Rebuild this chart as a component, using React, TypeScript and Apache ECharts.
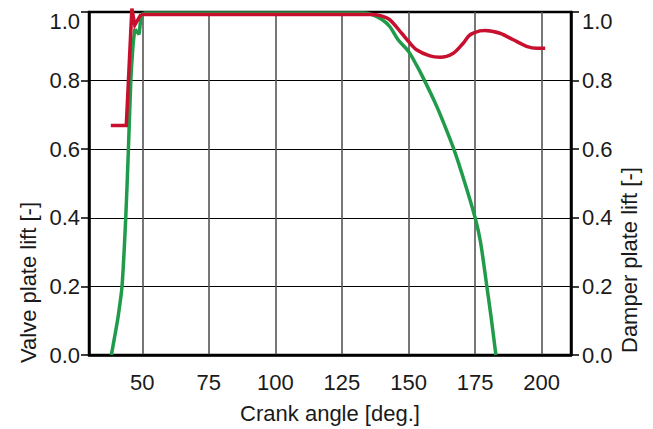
import React, { useEffect, useRef } from "react";
import * as echarts from "echarts";

const crankTicks = [50, 75, 100, 125, 150, 175, 200];

// Valve plate lift (left axis): rise (smooth), notch at full lift (sharp), hold + closing (smooth)
const valveRise: [number, number][] = [
  [38.4, 0], [39.7, 0.056], [40.9, 0.11], [42.4, 0.2], [43.8, 0.4], [44.8, 0.6],
  [45.7, 0.8], [46.5, 0.9], [47.2, 0.95],
];
const valveNotch: [number, number][] = [
  [47.2, 0.95], [48.8, 0.935], [49.6, 0.99], [50.5, 0.997],
];
const valveClosing: [number, number][] = [
  [50.5, 0.997], [90, 0.997], [133, 0.997], [136, 0.993], [140, 0.978], [143, 0.957],
  [146, 0.92], [150, 0.885], [153, 0.845], [156, 0.8], [160, 0.735], [163, 0.68],
  [167, 0.6], [171, 0.505], [175, 0.4], [177, 0.33], [179.4, 0.2], [181, 0.11], [182.8, 0],
];

// Damper plate lift (right axis)
const damperOpening: [number, number][] = [
  [38.2, 0.669], [44.0, 0.669], [46.1, 1.01], [47.2, 0.962], [49.5, 0.993],
];
const damperClosing: [number, number][] = [
  [49.5, 0.993], [100, 0.993], [137, 0.993], [140, 0.988], [143, 0.977], [147.4, 0.938],
  [150, 0.914], [153, 0.89], [158, 0.872], [161.8, 0.868], [166.8, 0.88], [170.5, 0.909],
  [173, 0.933], [176.8, 0.945], [178.7, 0.946], [184.3, 0.938], [189.3, 0.919],
  [194.3, 0.9], [198.1, 0.894], [201.3, 0.894],
];

const FONT = "'Liberation Sans', Arial, sans-serif";
const FS = 22;
const TXT = "#1a1a1a";
const GREEN = "#1f9b4a";
const RED = "#c8102e";

const liftFormatter = (v: number) => (Math.abs(v - 1) < 1e-9 ? "{t|1.0}" : v.toFixed(1));

export default function App() {
  const ref = useRef<HTMLDivElement>(null);
  useEffect(() => {
    if (!ref.current) return;
    const chart = echarts.init(ref.current, null, { renderer: "svg" });
    const labelStyle = {
      fontFamily: FONT,
      fontSize: FS,
      color: TXT,
      rich: { t: { fontFamily: FONT, fontSize: FS, color: TXT, padding: [18, 0, 0, 0] } },
    };
    const greenLine = { color: GREEN, width: 3.5 };
    const redLine = { color: RED, width: 3.5 };
    chart.setOption({
      animation: false,
      backgroundColor: "#fff",
      grid: {
        left: 89, right: 82, top: 12, bottom: 73,
        show: true, borderColor: "#000", borderWidth: 2.5, backgroundColor: "transparent",
      },
      xAxis: {
        type: "value",
        min: 30,
        max: 211,
        name: "Crank angle [deg.]",
        nameLocation: "middle",
        nameGap: 47,
        nameTextStyle: { fontFamily: FONT, fontSize: FS, color: TXT },
        axisLine: { show: true, lineStyle: { color: "#000", width: 2.5 } },
        axisTick: { show: false, customValues: crankTicks },
        axisLabel: { customValues: crankTicks, margin: 16, fontFamily: FONT, fontSize: FS, color: TXT },
        splitLine: { show: true, lineStyle: { color: "#555", width: 1.6 } },
      },
      yAxis: [
        {
          type: "value", position: "left", min: 0, max: 1, interval: 0.2,
          axisLine: { show: true, lineStyle: { color: "#000", width: 2.5 } },
          axisTick: { show: true, inside: false, length: 8, lineStyle: { color: "#000", width: 1.5 } },
          axisLabel: { ...labelStyle, margin: 9, formatter: liftFormatter },
          splitLine: { show: true, lineStyle: { color: "#000", width: 1.2 } },
        },
        {
          type: "value", position: "right", min: 0, max: 1, interval: 0.2,
          axisLine: { show: true, lineStyle: { color: "#000", width: 2.5 } },
          axisTick: { show: true, inside: false, length: 8, lineStyle: { color: "#000", width: 1.5 } },
          axisLabel: { ...labelStyle, margin: 11, formatter: liftFormatter },
          splitLine: { show: false },
        },
      ],
      graphic: [
        {
          type: "text", x: 28, y: 363, rotation: Math.PI / 2,
          style: { text: "Valve plate lift [-]", font: `${FS}px ${FONT}`, fill: TXT, textAlign: "left", textVerticalAlign: "middle" },
        },
        {
          type: "text", x: 629, y: 353, rotation: Math.PI / 2,
          style: { text: "Damper plate lift [-]", font: `${FS}px ${FONT}`, fill: TXT, textAlign: "left", textVerticalAlign: "middle" },
        },
      ],
      series: [
        { type: "line", data: valveRise, yAxisIndex: 0, smooth: 0.25, showSymbol: false, clip: false, lineStyle: greenLine, itemStyle: { color: GREEN } },
        { type: "line", data: valveNotch, yAxisIndex: 0, showSymbol: false, clip: false, lineStyle: greenLine, itemStyle: { color: GREEN } },
        { type: "line", data: valveClosing, yAxisIndex: 0, smooth: 0.3, showSymbol: false, clip: false, lineStyle: greenLine, itemStyle: { color: GREEN } },
        { type: "line", data: damperOpening, yAxisIndex: 1, showSymbol: false, clip: false, lineStyle: { ...redLine, join: "miter" }, itemStyle: { color: RED } },
        { type: "line", data: damperClosing, yAxisIndex: 1, smooth: 0.3, showSymbol: false, clip: false, lineStyle: redLine, itemStyle: { color: RED } },
      ],
    });
    return () => chart.dispose();
  }, []);
  return <div ref={ref} style={{ width: 653, height: 429, position: "absolute", left: 0, top: 0 }} />;
}
